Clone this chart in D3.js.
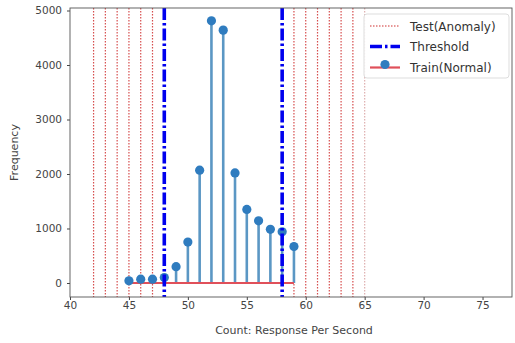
<!DOCTYPE html>
<html><head><meta charset="utf-8">
<script src="https://cdn.jsdelivr.net/npm/d3@7"></script>
<style>body{margin:0;background:#fff;} svg{display:block;font-family:"DejaVu Sans",sans-serif;}</style>
</head><body>
<svg id="c" width="515" height="343"></svg>
<script>
const trainX = [45,46,47,48,49,50,51,52,53,54,55,56,57,58,59];
const trainFreq = [40,70,70,100,300,750,2070,4810,4640,2020,1350,1140,985,940,670];
const thresholds = [48,58];
const testAnomaly = [42,43,44,45,46,47,59,60,61,62,63,64,65];
const xTicks = [40,45,50,55,60,65,70,75];
const yTicks = [0,1000,2000,3000,4000,5000];

const svg = d3.select("#c");
const L=70,R=512,T=8,B=297;
const x = d3.scaleLinear().domain([40,77.5]).range([L,R]);
const y = d3.scaleLinear().domain([-257,5046]).range([B,T]);

svg.append("g").selectAll("line").data(testAnomaly).join("line")
  .attr("x1",d=>x(d)).attr("x2",d=>x(d)).attr("y1",T).attr("y2",B)
  .attr("stroke",(d)=>d===65?"#d9a0a0":"#d03030").attr("stroke-width",1.2)
  .attr("stroke-dasharray","1.5,1.5").attr("opacity",0.85);

svg.append("g").selectAll("line").data(trainX).join("line")
  .attr("x1",d=>x(d)).attr("x2",d=>x(d))
  .attr("y1",y(0)).attr("y2",(d,i)=>y(trainFreq[i]))
  .attr("stroke","#5b97c4").attr("stroke-width",2.6);
svg.append("line").attr("x1",x(d3.min(trainX))).attr("x2",x(d3.max(trainX)))
  .attr("y1",y(0)).attr("y2",y(0)).attr("stroke","#e0505a").attr("stroke-width",2.2);
svg.append("g").selectAll("circle").data(trainX).join("circle")
  .attr("cx",d=>x(d)).attr("cy",(d,i)=>y(trainFreq[i])).attr("r",4.6)
  .attr("fill","#2f7cbf");

svg.append("g").selectAll("line").data(thresholds).join("line")
  .attr("x1",d=>x(d)).attr("x2",d=>x(d)).attr("y1",T).attr("y2",B)
  .attr("stroke","#0000ee").attr("stroke-width",3.6)
  .attr("stroke-dasharray","12,3,2.5,3");

const xa = svg.append("g").attr("transform",`translate(0,${B})`)
  .call(d3.axisBottom(x).tickValues(xTicks).tickSize(3).tickPadding(2));
const ya = svg.append("g").attr("transform",`translate(${L},0)`)
  .call(d3.axisLeft(y).tickValues(yTicks).tickFormat(d3.format("d")).tickSize(3).tickPadding(5));
[xa,ya].forEach(a=>{a.select(".domain").remove();
  a.selectAll("text").attr("font-size",10.5).attr("fill","#444").attr("font-family","DejaVu Sans");
  a.selectAll("line").attr("stroke","#444");});
svg.append("rect").attr("x",L).attr("y",T).attr("width",R-L).attr("height",B-T)
  .attr("fill","none").attr("stroke","#555").attr("stroke-width",0.9);

svg.append("text").attr("x",(L+R)/2+3).attr("y",334).attr("text-anchor","middle")
  .attr("font-size",11).attr("fill","#444").text("Count: Response Per Second");
svg.append("text").attr("transform",`translate(18,${(T+B)/2}) rotate(-90)`).attr("text-anchor","middle")
  .attr("font-size",11).attr("fill","#444").text("Frequency");

const lg = svg.append("g");
lg.append("rect").attr("x",364).attr("y",14).attr("width",145).attr("height",64).attr("rx",3)
  .attr("fill","#fff").attr("fill-opacity",0.85).attr("stroke","#ddd");
const rows=[26,46.5,67.5];
lg.append("line").attr("x1",370).attr("x2",400).attr("y1",rows[0]).attr("y2",rows[0])
  .attr("stroke","#d03030").attr("stroke-width",1.2).attr("stroke-dasharray","1.5,1.5");
lg.append("line").attr("x1",370).attr("x2",400).attr("y1",rows[1]).attr("y2",rows[1])
  .attr("stroke","#0000ee").attr("stroke-width",3.6).attr("stroke-dasharray","12,3,2.5,3");
lg.append("line").attr("x1",370).attr("x2",400).attr("y1",rows[2]).attr("y2",rows[2])
  .attr("stroke","#e0505a").attr("stroke-width",2.2);
lg.append("circle").attr("cx",385).attr("cy",rows[2]-3).attr("r",4.6).attr("fill","#2f7cbf");
["Test(Anomaly)","Threshold","Train(Normal)"].forEach((t,i)=>{
  lg.append("text").attr("x",410).attr("y",rows[i]+4.5).attr("font-size",12).attr("fill","#333").text(t);
});
</script>
</body></html>
